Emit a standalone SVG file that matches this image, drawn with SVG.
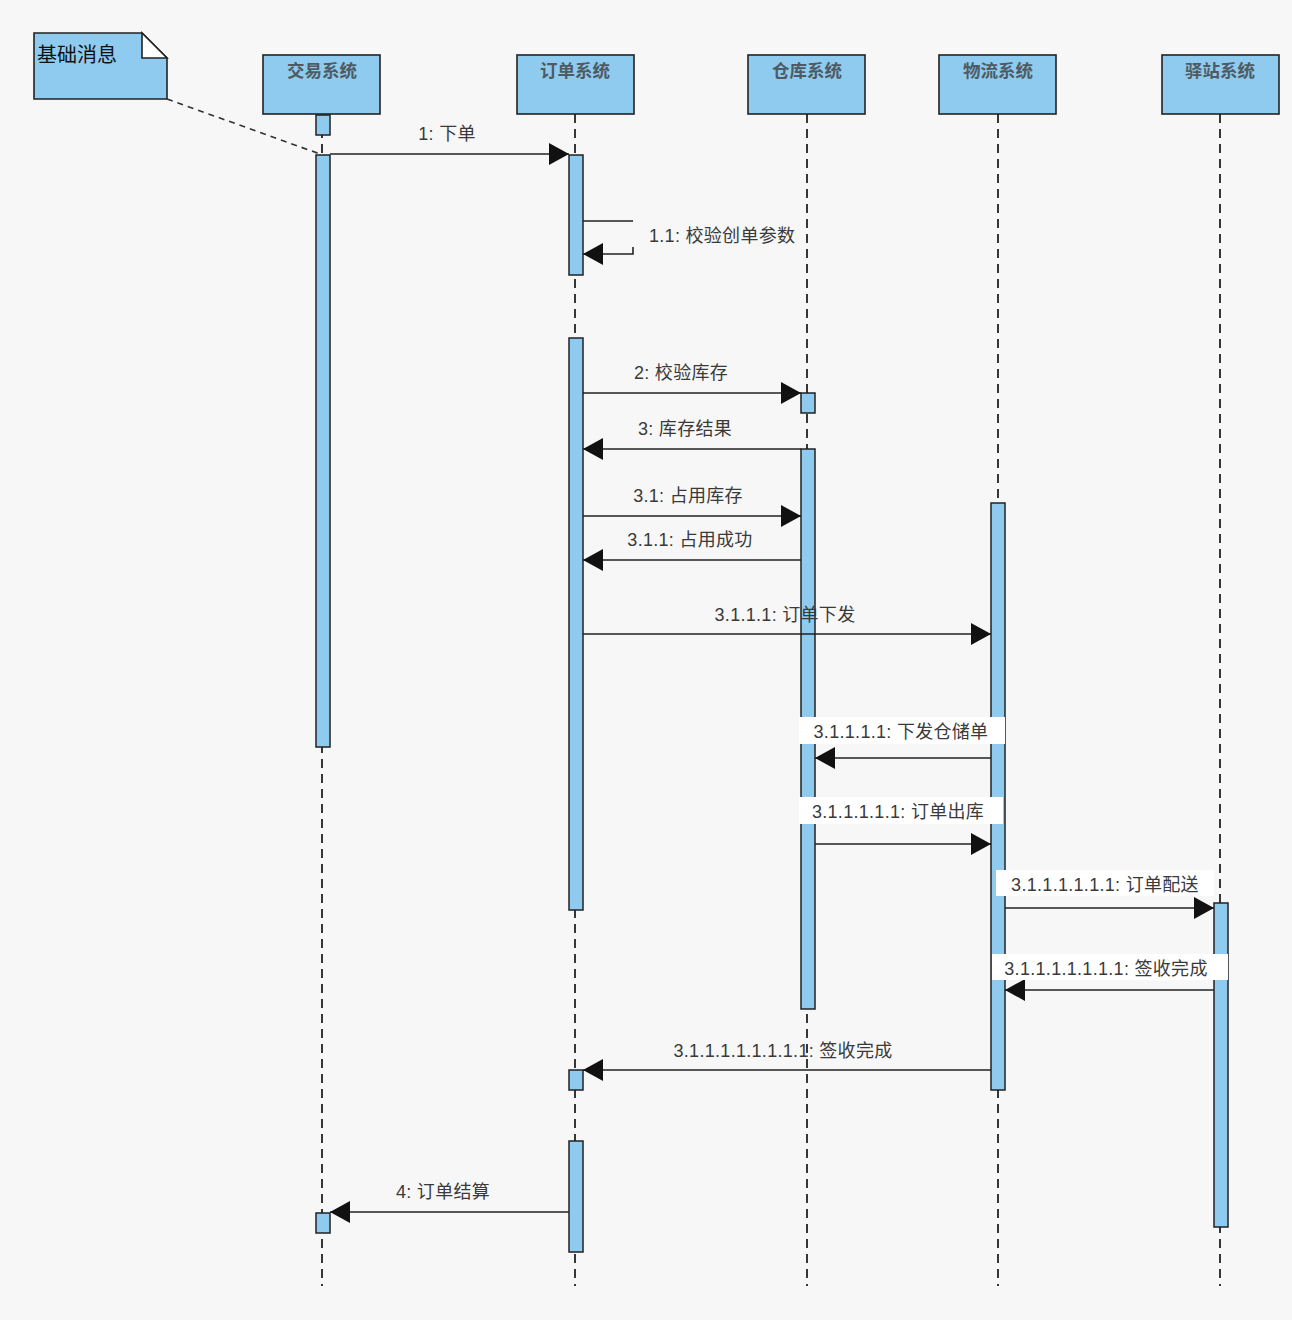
<svg xmlns="http://www.w3.org/2000/svg" width="1292" height="1320" viewBox="0 0 1292 1320">
<defs>
<style>
.bg{fill:#f7f7f7}
.hdr{fill:#8ecbee;stroke:#222;stroke-width:1.6}
.act{fill:#8ecbee;stroke:#222;stroke-width:1.5}
.life{stroke:#222;stroke-width:1.8;stroke-dasharray:9,6;fill:none}
.htxt{font-family:"Noto Sans CJK SC","Noto Sans",sans-serif;font-size:17.5px;font-weight:bold;fill:#4f5b64;text-anchor:middle}
.msg{stroke:#222;stroke-width:1.6;fill:none}
.lbl{font-family:"Liberation Sans","Noto Sans CJK SC",sans-serif;font-size:18px;letter-spacing:0.3px;fill:#3a3a3a;text-anchor:middle}
.lbg{fill:#ffffff}
</style>
<marker id="arr" markerUnits="userSpaceOnUse" markerWidth="22" markerHeight="24" refX="20" refY="11" orient="auto">
<path d="M0,0 L20,11 L0,22 Z" fill="#111"/>
</marker>
</defs>
<rect class="bg" x="0" y="0" width="1292" height="1320"/>

<g id="note">
<path d="M34,33 H142 L167,58 V99 H34 Z" fill="#8ecbee" stroke="#222" stroke-width="1.6"/>
<path d="M142,33 V58 H167 Z" fill="#ffffff" stroke="#222" stroke-width="1.6"/>
<text x="37" y="62" font-family="'Noto Sans CJK SC',sans-serif" font-size="20" fill="#111">基础消息</text>
<line x1="167" y1="99" x2="320" y2="154" stroke="#333" stroke-width="1.6" stroke-dasharray="6,5"/>
</g>

<g id="lifeline-trade">
<line class="life" x1="322" y1="114" x2="322" y2="1286"/>
<rect class="hdr" x="263" y="55" width="117" height="59"/>
<text class="htxt" x="322" y="77">交易系统</text>
<rect class="act" x="316" y="115" width="14" height="20"/>
<rect class="act" x="316" y="155" width="14" height="592"/>
<rect class="act" x="316" y="1213" width="14" height="20"/>
</g>

<g id="lifeline-order">
<line class="life" x1="575" y1="114" x2="575" y2="1286"/>
<rect class="hdr" x="517" y="55" width="117" height="59"/>
<text class="htxt" x="575" y="77">订单系统</text>
<rect class="act" x="569" y="155" width="14" height="120"/>
<rect class="act" x="569" y="338" width="14" height="572"/>
<rect class="act" x="569" y="1070" width="14" height="20"/>
<rect class="act" x="569" y="1141" width="14" height="111"/>
</g>

<g id="lifeline-warehouse">
<line class="life" x1="807" y1="114" x2="807" y2="1286"/>
<rect class="hdr" x="748" y="55" width="117" height="59"/>
<text class="htxt" x="807" y="77">仓库系统</text>
<rect class="act" x="801" y="393" width="14" height="20"/>
<rect class="act" x="801" y="449" width="14" height="560"/>
</g>

<g id="lifeline-logistics">
<line class="life" x1="998" y1="114" x2="998" y2="1286"/>
<rect class="hdr" x="939" y="55" width="117" height="59"/>
<text class="htxt" x="998" y="77">物流系统</text>
<rect class="act" x="991" y="503" width="14" height="587"/>
</g>

<g id="lifeline-station">
<line class="life" x1="1220" y1="114" x2="1220" y2="1286"/>
<rect class="hdr" x="1162" y="55" width="117" height="59"/>
<text class="htxt" x="1220" y="77">驿站系统</text>
<rect class="act" x="1214" y="903" width="14" height="324"/>
</g>

<g id="connectors">
<line class="msg" x1="330" y1="154" x2="569" y2="154" marker-end="url(#arr)"/>
<text class="lbl" x="447" y="140">1: 下单</text>

<path class="msg" d="M583,221 H633"/>
<path class="msg" d="M633,247 V254 H583" marker-end="url(#arr)"/>
<text class="lbl" x="649" y="242" style="text-anchor:start">1.1: 校验创单参数</text>

<line class="msg" x1="583" y1="393" x2="801" y2="393" marker-end="url(#arr)"/>
<text class="lbl" x="681" y="379">2: 校验库存</text>

<line class="msg" x1="801" y1="449" x2="583" y2="449" marker-end="url(#arr)"/>
<text class="lbl" x="685" y="435">3: 库存结果</text>

<line class="msg" x1="583" y1="516" x2="801" y2="516" marker-end="url(#arr)"/>
<text class="lbl" x="688" y="502">3.1: 占用库存</text>

<line class="msg" x1="801" y1="560" x2="583" y2="560" marker-end="url(#arr)"/>
<text class="lbl" x="690" y="546">3.1.1: 占用成功</text>

<line class="msg" x1="583" y1="634" x2="991" y2="634" marker-end="url(#arr)"/>
<text class="lbl" x="785" y="621">3.1.1.1: 订单下发</text>

<line class="msg" x1="991" y1="758" x2="815" y2="758" marker-end="url(#arr)"/>
<rect class="lbg" x="799" y="717" width="206" height="27"/>
<text class="lbl" x="901" y="738">3.1.1.1.1: 下发仓储单</text>

<line class="msg" x1="815" y1="844" x2="991" y2="844" marker-end="url(#arr)"/>
<rect class="lbg" x="799" y="797" width="204" height="27"/>
<text class="lbl" x="898" y="818">3.1.1.1.1.1: 订单出库</text>

<line class="msg" x1="1005" y1="908" x2="1214" y2="908" marker-end="url(#arr)"/>
<rect class="lbg" x="996" y="870" width="218" height="26"/>
<text class="lbl" x="1105" y="891">3.1.1.1.1.1.1: 订单配送</text>

<line class="msg" x1="1214" y1="990" x2="1005" y2="990" marker-end="url(#arr)"/>
<rect class="lbg" x="992" y="954" width="236" height="26"/>
<text class="lbl" x="1106" y="975">3.1.1.1.1.1.1.1: 签收完成</text>

<line class="msg" x1="991" y1="1070" x2="583" y2="1070" marker-end="url(#arr)"/>
<text class="lbl" x="783" y="1057">3.1.1.1.1.1.1.1.1: 签收完成</text>

<line class="msg" x1="569" y1="1212" x2="330" y2="1212" marker-end="url(#arr)"/>
<text class="lbl" x="443" y="1198">4: 订单结算</text>
</g>
</svg>
